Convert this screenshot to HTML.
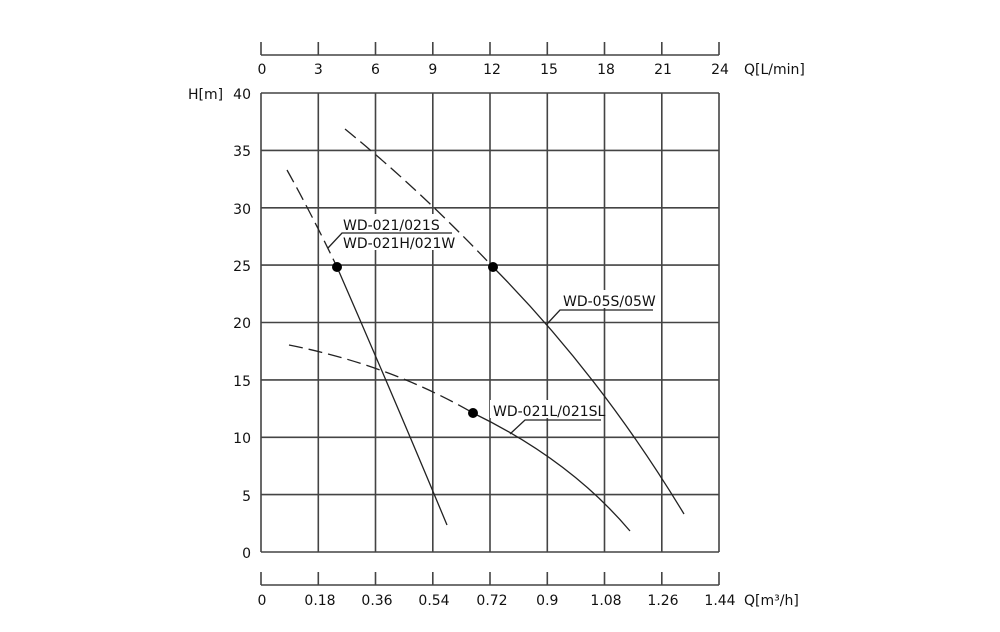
<!DOCTYPE html>
<html><head><meta charset="utf-8"><style>body{margin:0;background:#fff}svg{display:block}</style></head><body>
<svg width="1000" height="632" viewBox="0 0 1000 632" xmlns="http://www.w3.org/2000/svg" font-family="'DejaVu Sans','Liberation Sans',sans-serif" font-size="14" fill="#111">
<g stroke="#444" stroke-width="1.6" fill="none">
<!-- grid verticals -->
<path d="M261 93V552M318.3 93V552M375.5 93V552M432.8 93V552M490 93V552M547.3 93V552M604.5 93V552M661.8 93V552M719 93V552"/>
<!-- grid horizontals -->
<path d="M261 93H719M261 150.4H719M261 207.8H719M261 265.1H719M261 322.5H719M261 379.9H719M261 437.3H719M261 494.6H719M261 552H719"/>
<!-- top axis -->
<path d="M261 55H719M261 42V55M318.3 42V55M375.5 42V55M432.8 42V55M490 42V55M547.3 42V55M604.5 42V55M661.8 42V55M719 42V55"/>
<!-- bottom axis -->
<path d="M261 585H719M261 572V585M318.3 572V585M375.5 572V585M432.8 572V585M490 572V585M547.3 572V585M604.5 572V585M661.8 572V585M719 572V585"/>
</g>
<!-- label backgrounds -->
<g fill="#fff">
<rect x="340" y="214" width="115" height="36"/>
<rect x="560" y="290" width="95" height="18"/>
<rect x="490" y="400" width="113" height="18"/>
</g>
<g stroke="#222" stroke-width="1.3" fill="none">
<path d="M287 170 Q312 215 337 267" stroke-dasharray="14 6"/>
<path d="M337 267 Q395 400 447 525"/>
<path d="M345 129 Q420 190 493 267" stroke-dasharray="14 6"/>
<path d="M493 267 Q600 375 684 514"/>
<path d="M289 345 Q390 365 473 413" stroke-dasharray="14 6"/>
<path d="M473 413 Q570 460 630 531"/>
<path d="M328 248 L342 233 H452"/>
<path d="M547 324 L560 310 H653"/>
<path d="M510 434 L525 420 H601"/>
</g>
<g fill="#000"><circle cx="337" cy="267" r="5"/><circle cx="493" cy="267" r="5"/><circle cx="473" cy="413" r="5"/></g>
<text x="343" y="230">WD-021/021S</text>
<text x="343" y="248">WD-021H/021W</text>
<text x="563" y="306">WD-05S/05W</text>
<text x="493" y="416">WD-021L/021SL</text>
<g text-anchor="middle">
<text x="262" y="74">0</text><text x="318.3" y="74">3</text><text x="375.5" y="74">6</text><text x="432.8" y="74">9</text><text x="492" y="74">12</text><text x="549" y="74">15</text><text x="606" y="74">18</text><text x="663" y="74">21</text><text x="720" y="74">24</text>
<text x="262" y="605">0</text><text x="320" y="605">0.18</text><text x="377" y="605">0.36</text><text x="434" y="605">0.54</text><text x="492" y="605">0.72</text><text x="547.3" y="605">0.9</text><text x="606" y="605">1.08</text><text x="663" y="605">1.26</text><text x="720" y="605">1.44</text>
</g>
<text x="744" y="74">Q[L/min]</text>
<text x="744" y="605">Q[m³/h]</text>
<g text-anchor="end">
<text x="251" y="99">40</text><text x="251" y="156">35</text><text x="251" y="214">30</text><text x="251" y="271">25</text><text x="251" y="328">20</text><text x="251" y="386">15</text><text x="251" y="443">10</text><text x="251" y="501">5</text><text x="251" y="558">0</text>
</g>
<text x="188" y="99">H[m]</text>
</svg>
</body></html>
